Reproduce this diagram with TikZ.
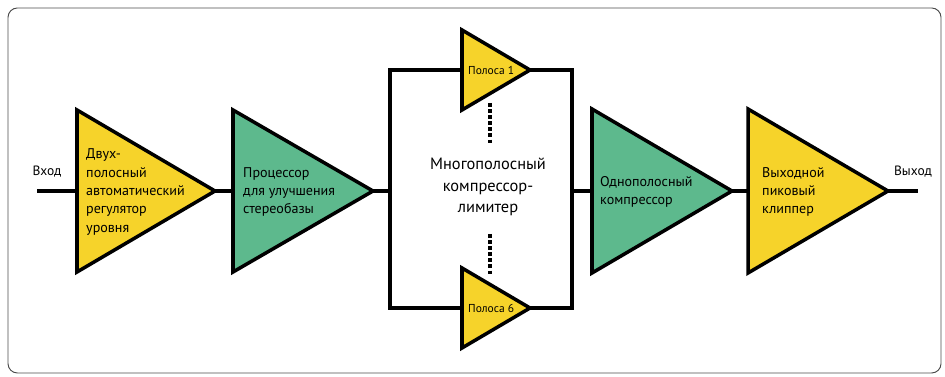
\documentclass[tikz,border=0pt]{standalone}
\usepackage{fontspec}
\setmainfont{PT Sans}
\definecolor{ampyellow}{HTML}{F6D32A}
\definecolor{ampgreen}{HTML}{5DB98D}

\begin{document}
\begin{tikzpicture}[x=0.03cm,y=-0.03cm,
	amp/.style={draw=black,line width=3pt,line join=miter},
	wire/.style={draw=black,line width=2.6pt},
	lbl/.style={font=\fontsize{12}{15.7}\selectfont,align=left,anchor=west,inner sep=0pt},
	io/.style={font=\fontsize{11.5}{13}\selectfont,inner sep=0pt},
	band/.style={font=\fontsize{9.8}{11}\selectfont,anchor=west,inner sep=0pt}]
			\useasboundingbox (0,0) rectangle (945,377);
			\draw[gray!60!black,line width=0.8pt,rounded corners=8pt] (8,8) rectangle (941,373);

			% points of the chain
			\coordinate (in) at (37,191);
			\coordinate (agc-in) at (77,191);
			\coordinate (agc-out) at (215,191);
			\coordinate (stereo-in) at (233,191);
			\coordinate (stereo-out) at (373,191);
			\coordinate (split) at (390,191);
			\coordinate (merge) at (572,191);
			\coordinate (comp-in) at (592,191);
			\coordinate (comp-out) at (732,191);
			\coordinate (clip-in) at (748,191);
			\coordinate (clip-out) at (888,191);
			\coordinate (out) at (918,191);
			\coordinate (band1-in) at (462,70);
			\coordinate (band1-out) at (530,70);
			\coordinate (band6-in) at (462,308);
			\coordinate (band6-out) at (530,308);

			% wires
			\draw[wire] (in) -- (agc-in);
			\draw[wire] (agc-out) -- (stereo-in);
			\draw[wire] (stereo-out) -- (split);
			\draw[wire] (band1-in) -| (split) |- (band6-in);
			\draw[wire] (band1-out) -| (merge) |- (band6-out);
			\draw[wire] (merge) -- (comp-in);
			\draw[wire] (comp-out) -- (clip-in);
			\draw[wire] (clip-out) -- (out);

			% amplifiers
			\draw[amp,fill=ampyellow] (77,110) -- (agc-out) -- (77,272) -- cycle;
			\draw[amp,fill=ampgreen] (233,110) -- (stereo-out) -- (233,272) -- cycle;
			\draw[amp,fill=ampgreen] (592,109) -- (comp-out) -- (592,273) -- cycle;
			\draw[amp,fill=ampyellow] (748,109) -- (clip-out) -- (748,273) -- cycle;
			\draw[amp,fill=ampyellow] (462,30) -- (band1-out) -- (462,110) -- cycle;
			\draw[amp,fill=ampyellow] (462,268) -- (band6-out) -- (462,348) -- cycle;

			% dots between bands
			\coordinate (dots1-a) at (490,103);
			\coordinate (dots1-b) at (490,143);
			\coordinate (dots6-a) at (490,234);
			\coordinate (dots6-b) at (490,274);
			\draw[line width=2.6pt,dash pattern=on 3.4pt off 1.8pt] (dots1-a) -- (dots1-b);
			\draw[line width=2.6pt,dash pattern=on 3.4pt off 1.8pt] (dots6-a) -- (dots6-b);

			% labels
			\node[io] (vhod) at (47,172) {Вход};
			\node[io] (vyhod) at (913,172) {Выход};
			\node[lbl] (agc) at (86,192) {Двух-\\полосный\\автоматический\\регулятор\\уровня};
			\node[lbl] (stereo) at (243,192) {Процессор\\для улучшения\\стереобазы};
			\node[lbl] (comp) at (600,192) {Однополосный\\компрессор};
			\node[lbl] (clip) at (762,192) {Выходной\\пиковый\\клиппер};
			\node[band] (band1) at (468,70) {Полоса 1};
			\node[band] (band6) at (468,308) {Полоса 6};
			\node[font=\fontsize{14}{18.3}\selectfont,align=center,inner sep=0pt] (multi) at (488,187) {Многополосный\\компрессор-\\лимитер};
\end{tikzpicture}
\end{document}
